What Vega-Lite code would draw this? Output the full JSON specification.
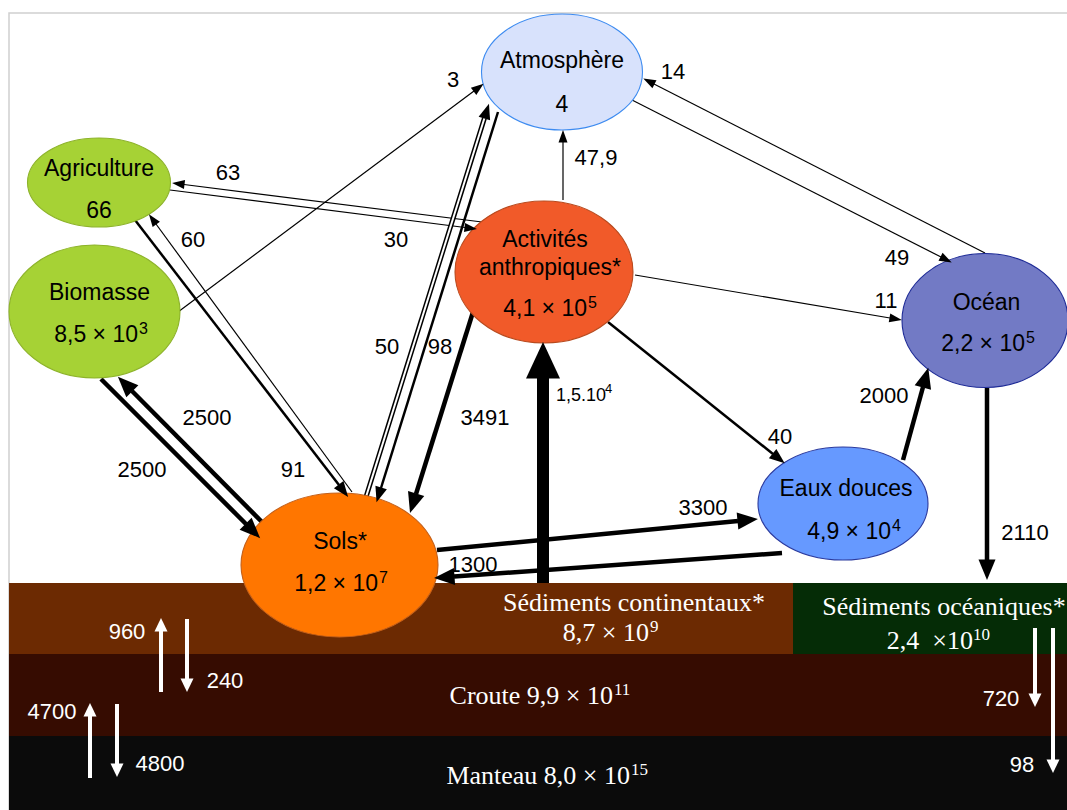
{
  "$schema": "https://vega.github.io/schema/vega-lite/v6.json",
  "width": 1067,
  "height": 810,
  "autosize": "none",
  "padding": 0,
  "background": "white",
  "config": {"view": {"stroke": null}, "axis": {"disable": true}},
  "datasets": {
    "frame": [{"x": 9, "x2": 1100, "y": 13, "y2": 900}],
    "bands": [
      {"band": "Sédiments continentaux", "x": 9, "x2": 793, "y": 583, "y2": 654},
      {"band": "Sédiments océaniques", "x": 793, "x2": 1100, "y": 583, "y2": 655},
      {"band": "Croute", "x": 9, "x2": 1100, "y": 654, "y2": 736},
      {"band": "Manteau", "x": 9, "x2": 1100, "y": 736, "y2": 830}
    ],
    "nodes": [
      {"node": "Atmosphère", "x": 562, "y": 72},
      {"node": "Agriculture", "x": 99, "y": 182.5},
      {"node": "Biomasse", "x": 94.5, "y": 311.5},
      {"node": "Activités anthropiques", "x": 544, "y": 272},
      {"node": "Océan", "x": 985, "y": 320.5},
      {"node": "Eaux douces", "x": 843, "y": 503.5},
      {"node": "Sols", "x": 339.5, "y": 565}
    ],
    "arrows": [
      {"flux": "3", "x": 178, "y": 312, "x2": 474, "y2": 91, "cls": "thin"},
      {"flux": "14", "x": 985, "y": 253, "x2": 654, "y2": 84, "cls": "thin"},
      {"flux": "49", "x": 632, "y": 100, "x2": 941, "y2": 257, "cls": "thin"},
      {"flux": "47,9", "x": 563, "y": 200, "x2": 563, "y2": 142, "cls": "thin"},
      {"flux": "63", "x": 482, "y": 222, "x2": 184, "y2": 184.5, "cls": "thin"},
      {"flux": "30", "x": 170, "y": 190, "x2": 465, "y2": 227.5, "cls": "thin"},
      {"flux": "11", "x": 635, "y": 275, "x2": 890, "y2": 318, "cls": "thin"},
      {"flux": "40", "x": 608, "y": 322, "x2": 773, "y2": 454, "cls": "med"},
      {"flux": "2000", "x": 903, "y": 460, "x2": 923, "y2": 387, "cls": "thick"},
      {"flux": "2110", "x": 987, "y": 388, "x2": 987, "y2": 560, "cls": "thick"},
      {"flux": "3300", "x": 437, "y": 550, "x2": 738, "y2": 521, "cls": "thick"},
      {"flux": "1300", "x": 782, "y": 553, "x2": 454, "y2": 576.6, "cls": "thick"},
      {"flux": "1,5.10⁴", "x": 543, "y": 583, "x2": 543, "y2": 378, "cls": "huge"},
      {"flux": "3491", "x": 478, "y": 296, "x2": 416, "y2": 494, "cls": "thick"},
      {"flux": "50", "x": 366, "y": 497, "x2": 484.5, "y2": 118, "cls": "hollow"},
      {"flux": "98", "x": 498, "y": 112, "x2": 381, "y2": 488, "cls": "med"},
      {"flux": "60", "x": 352, "y": 492, "x2": 156, "y2": 224, "cls": "thin"},
      {"flux": "91", "x": 135, "y": 220, "x2": 339, "y2": 485, "cls": "med"},
      {"flux": "2500", "x": 101, "y": 379, "x2": 246, "y2": 524, "cls": "thick"},
      {"flux": "2500", "x": 262, "y": 522, "x2": 132, "y2": 391, "cls": "thick"},
      {"flux": "960", "x": 161, "y": 692, "x2": 161, "y2": 631, "cls": "white"},
      {"flux": "240", "x": 187, "y": 619, "x2": 187, "y2": 679, "cls": "white"},
      {"flux": "4700", "x": 90, "y": 778, "x2": 90, "y2": 716, "cls": "white"},
      {"flux": "4800", "x": 117, "y": 704, "x2": 117, "y2": 764, "cls": "white"},
      {"flux": "720", "x": 1035, "y": 628, "x2": 1035, "y2": 694, "cls": "white"},
      {"flux": "98", "x": 1053, "y": 628, "x2": 1053, "y2": 760, "cls": "white"}
    ],
    "texts": [
      {"t": "Atmosphère", "x": 562, "y": 61, "k": "n"},
      {"t": "4", "x": 562, "y": 104.5, "k": "n"},
      {"t": "Agriculture", "x": 99, "y": 169, "k": "n"},
      {"t": "66", "x": 99, "y": 211, "k": "n"},
      {"t": "Biomasse", "x": 99.5, "y": 293, "k": "n"},
      {"t": "8,5 × 10", "x": 138, "y": 335, "k": "nm"},
      {"t": "3", "x": 139, "y": 329, "k": "ns"},
      {"t": "Activités", "x": 545, "y": 240, "k": "n"},
      {"t": "anthropiques*", "x": 550, "y": 268, "k": "n"},
      {"t": "4,1 × 10", "x": 587, "y": 309, "k": "nm"},
      {"t": "5", "x": 588, "y": 303, "k": "ns"},
      {"t": "Océan", "x": 986.5, "y": 302.5, "k": "n"},
      {"t": "2,2 × 10", "x": 1025, "y": 344, "k": "nm"},
      {"t": "5", "x": 1026, "y": 338, "k": "ns"},
      {"t": "Eaux douces", "x": 846, "y": 489, "k": "n"},
      {"t": "4,9 × 10", "x": 891, "y": 531.5, "k": "nm"},
      {"t": "4", "x": 892, "y": 526, "k": "ns"},
      {"t": "Sols*", "x": 340, "y": 542, "k": "n"},
      {"t": "1,2 × 10", "x": 378, "y": 584, "k": "nm"},
      {"t": "7", "x": 379, "y": 578, "k": "ns"},
      {"t": "3", "x": 453, "y": 80, "k": "f"},
      {"t": "14", "x": 673, "y": 72, "k": "f"},
      {"t": "63", "x": 228, "y": 173, "k": "f"},
      {"t": "47,9", "x": 596, "y": 158, "k": "f"},
      {"t": "60", "x": 193, "y": 240, "k": "f"},
      {"t": "30", "x": 396, "y": 240, "k": "f"},
      {"t": "49", "x": 897, "y": 258, "k": "f"},
      {"t": "11", "x": 886, "y": 301, "k": "f"},
      {"t": "50", "x": 387, "y": 347, "k": "f"},
      {"t": "98", "x": 440, "y": 347, "k": "f"},
      {"t": "2500", "x": 207, "y": 418, "k": "f"},
      {"t": "2500", "x": 142, "y": 470, "k": "f"},
      {"t": "3491", "x": 485, "y": 418, "k": "f"},
      {"t": "1,5.10", "x": 556, "y": 396, "k": "fm"},
      {"t": "4", "x": 605, "y": 389, "k": "fs"},
      {"t": "2000", "x": 884, "y": 396, "k": "f"},
      {"t": "40", "x": 780, "y": 437, "k": "f"},
      {"t": "91", "x": 293, "y": 470, "k": "f"},
      {"t": "3300", "x": 703, "y": 508, "k": "f"},
      {"t": "2110", "x": 1025, "y": 533, "k": "f"},
      {"t": "1300", "x": 473, "y": 565, "k": "f"},
      {"t": "960", "x": 127, "y": 632, "k": "w"},
      {"t": "240", "x": 225, "y": 681, "k": "w"},
      {"t": "4700", "x": 52, "y": 712, "k": "w"},
      {"t": "4800", "x": 160, "y": 764, "k": "w"},
      {"t": "720", "x": 1001, "y": 699, "k": "w"},
      {"t": "98", "x": 1022, "y": 765, "k": "w"},
      {"t": "Sédiments continentaux*", "x": 634, "y": 603, "k": "b"},
      {"t": "8,7 × 10", "x": 649, "y": 633, "k": "bm"},
      {"t": "9", "x": 650, "y": 627, "k": "bs"},
      {"t": "Sédiments océaniques*", "x": 944, "y": 607, "k": "b"},
      {"t": "2,4\u00a0\u00a0×10", "x": 973, "y": 641, "k": "bm"},
      {"t": "10", "x": 973, "y": 635, "k": "bs"},
      {"t": "Croute 9,9 × 10", "x": 613, "y": 696, "k": "bm"},
      {"t": "11", "x": 614, "y": 690, "k": "bs"},
      {"t": "Manteau 8,0 × 10", "x": 630, "y": 776, "k": "bm"},
      {"t": "15", "x": 631, "y": 770, "k": "bs"}
    ]
  },
  "resolve": {"scale": {"fill": "independent", "stroke": "independent", "shape": "independent", "strokeWidth": "independent"}},
  "layer": [
    {
      "data": {"name": "frame"},
      "mark": {"type": "rect", "fill": null, "stroke": "#D0D0D0", "strokeWidth": 1.5},
      "encoding": {
        "x": {"field": "x", "type": "quantitative", "scale": {"domain": [0, 1067], "nice": false, "zero": false}},
        "x2": {"field": "x2"},
        "y": {"field": "y", "type": "quantitative", "scale": {"domain": [0, 810], "reverse": true, "nice": false, "zero": false}},
        "y2": {"field": "y2"}
      }
    },
    {
      "data": {"name": "bands"},
      "mark": {"type": "rect", "strokeWidth": 0},
      "encoding": {
        "x": {"field": "x", "type": "quantitative", "scale": {"domain": [0, 1067], "nice": false, "zero": false}},
        "x2": {"field": "x2"},
        "y": {"field": "y", "type": "quantitative", "scale": {"domain": [0, 810], "reverse": true, "nice": false, "zero": false}},
        "y2": {"field": "y2"},
        "fill": {"field": "band", "type": "nominal", "legend": null,
          "scale": {"domain": ["Sédiments continentaux", "Sédiments océaniques", "Croute", "Manteau"],
                    "range": ["#6C2A02", "#052C06", "#360C01", "#0B0B0B"]}}
      }
    },
    {
      "data": {"name": "arrows"},
      "mark": {"type": "rule", "strokeCap": "butt"},
      "encoding": {
        "x": {"field": "x", "type": "quantitative", "scale": {"domain": [0, 1067], "nice": false, "zero": false}},
        "x2": {"field": "x2"},
        "y": {"field": "y", "type": "quantitative", "scale": {"domain": [0, 810], "reverse": true, "nice": false, "zero": false}},
        "y2": {"field": "y2"},
        "stroke": {"field": "cls", "type": "nominal", "legend": null,
          "scale": {"domain": ["thin", "med", "thick", "huge", "hollow", "white"],
                    "range": ["#000000", "#000000", "#000000", "#000000", "#000000", "#FFFFFF"]}},
        "strokeWidth": {"field": "cls", "type": "ordinal", "legend": null,
          "scale": {"type": "ordinal", "domain": ["thin", "med", "thick", "huge", "hollow", "white"],
                    "range": [1.2, 2.5, 4.5, 12, 5, 4]}}
      }
    },
    {
      "data": {"name": "arrows"},
      "transform": [{"filter": "datum.cls == 'hollow'"}],
      "mark": {"type": "rule", "strokeCap": "butt", "stroke": "#FFFFFF", "strokeWidth": 2},
      "encoding": {
        "x": {"field": "x", "type": "quantitative", "scale": {"domain": [0, 1067], "nice": false, "zero": false}},
        "x2": {"field": "x2"},
        "y": {"field": "y", "type": "quantitative", "scale": {"domain": [0, 810], "reverse": true, "nice": false, "zero": false}},
        "y2": {"field": "y2"}
      }
    },
    {
      "data": {"name": "nodes"},
      "mark": {"type": "point", "filled": true, "opacity": 1, "size": 4, "strokeWidth": 1.1},
      "encoding": {
        "x": {"field": "x", "type": "quantitative", "scale": {"domain": [0, 1067], "nice": false, "zero": false}},
        "y": {"field": "y", "type": "quantitative", "scale": {"domain": [0, 810], "reverse": true, "nice": false, "zero": false}},
        "shape": {"field": "node", "type": "nominal", "legend": null,
          "scale": {"domain": ["Atmosphère", "Agriculture", "Biomasse", "Activités anthropiques", "Océan", "Eaux douces", "Sols"],
                    "range": [
                      "M-80.5,0A80.5,58,0,1,0,80.5,0A80.5,58,0,1,0,-80.5,0Z",
                      "M-71.5,0A71.5,44.5,0,1,0,71.5,0A71.5,44.5,0,1,0,-71.5,0Z",
                      "M-85.5,0A85.5,66.5,0,1,0,85.5,0A85.5,66.5,0,1,0,-85.5,0Z",
                      "M-89,0A89,71,0,1,0,89,0A89,71,0,1,0,-89,0Z",
                      "M-83,0A83,67,0,1,0,83,0A83,67,0,1,0,-83,0Z",
                      "M-85,0A85,56.5,0,1,0,85,0A85,56.5,0,1,0,-85,0Z",
                      "M-98.5,0A98.5,72,0,1,0,98.5,0A98.5,72,0,1,0,-98.5,0Z"
                    ]}},
        "fill": {"field": "node", "type": "nominal", "legend": null,
          "scale": {"domain": ["Atmosphère", "Agriculture", "Biomasse", "Activités anthropiques", "Océan", "Eaux douces", "Sols"],
                    "range": ["#D8E2FC", "#A6D235", "#A6D235", "#F15A29", "#727AC5", "#6699FF", "#FF7600"]}},
        "stroke": {"field": "node", "type": "nominal", "legend": null,
          "scale": {"domain": ["Atmosphère", "Agriculture", "Biomasse", "Activités anthropiques", "Océan", "Eaux douces", "Sols"],
                    "range": ["#3D8BF0", "#8DB32A", "#8DB32A", "#B84A1E", "#1D2A96", "#2B3A9E", "#C4601A"]}}
      }
    },
    {
      "data": {"name": "arrows"},
      "transform": [{"calculate": "atan2(datum.x2 - datum.x, datum.y - datum.y2) * 180 / PI", "as": "ang"}],
      "mark": {"type": "point", "filled": true, "opacity": 1, "size": 4, "strokeWidth": 0},
      "encoding": {
        "x": {"field": "x2", "type": "quantitative", "scale": {"domain": [0, 1067], "nice": false, "zero": false}},
        "y": {"field": "y2", "type": "quantitative", "scale": {"domain": [0, 810], "reverse": true, "nice": false, "zero": false}},
        "angle": {"field": "ang", "type": "quantitative", "scale": null},
        "shape": {"field": "cls", "type": "nominal", "legend": null,
          "scale": {"domain": ["thin", "med", "thick", "huge", "hollow", "white"],
                    "range": [
                      "M0,-12L4.5,0.5L-4.5,0.5Z",
                      "M0,-15L6,0.5L-6,0.5Z",
                      "M0,-20L8.5,0.5L-8.5,0.5Z",
                      "M0,-36L17,0.5L-17,0.5Z",
                      "M0,-15L6,0.5L-6,0.5Z",
                      "M0,-13L6.5,0.5L-6.5,0.5Z"
                    ]}},
        "fill": {"field": "cls", "type": "nominal", "legend": null,
          "scale": {"domain": ["thin", "med", "thick", "huge", "hollow", "white"],
                    "range": ["#000000", "#000000", "#000000", "#000000", "#000000", "#FFFFFF"]}}
      }
    },
    {
      "data": {"name": "texts"},
      "transform": [{"filter": "datum.k == 'n'"}],
      "mark": {"type": "text", "font": "Liberation Sans", "fontSize": 23, "color": "#000000", "align": "center", "baseline": "middle"},
      "encoding": {
        "x": {"field": "x", "type": "quantitative", "scale": {"domain": [0, 1067], "nice": false, "zero": false}},
        "y": {"field": "y", "type": "quantitative", "scale": {"domain": [0, 810], "reverse": true, "nice": false, "zero": false}},
        "text": {"field": "t"}
      }
    },
    {
      "data": {"name": "texts"},
      "transform": [{"filter": "datum.k == 'nm'"}],
      "mark": {"type": "text", "font": "Liberation Sans", "fontSize": 23, "color": "#000000", "align": "right", "baseline": "middle"},
      "encoding": {
        "x": {"field": "x", "type": "quantitative", "scale": {"domain": [0, 1067], "nice": false, "zero": false}},
        "y": {"field": "y", "type": "quantitative", "scale": {"domain": [0, 810], "reverse": true, "nice": false, "zero": false}},
        "text": {"field": "t"}
      }
    },
    {
      "data": {"name": "texts"},
      "transform": [{"filter": "datum.k == 'ns'"}],
      "mark": {"type": "text", "font": "Liberation Sans", "fontSize": 16, "color": "#000000", "align": "left", "baseline": "middle"},
      "encoding": {
        "x": {"field": "x", "type": "quantitative", "scale": {"domain": [0, 1067], "nice": false, "zero": false}},
        "y": {"field": "y", "type": "quantitative", "scale": {"domain": [0, 810], "reverse": true, "nice": false, "zero": false}},
        "text": {"field": "t"}
      }
    },
    {
      "data": {"name": "texts"},
      "transform": [{"filter": "datum.k == 'f'"}],
      "mark": {"type": "text", "font": "Liberation Sans", "fontSize": 22, "color": "#000000", "align": "center", "baseline": "middle"},
      "encoding": {
        "x": {"field": "x", "type": "quantitative", "scale": {"domain": [0, 1067], "nice": false, "zero": false}},
        "y": {"field": "y", "type": "quantitative", "scale": {"domain": [0, 810], "reverse": true, "nice": false, "zero": false}},
        "text": {"field": "t"}
      }
    },
    {
      "data": {"name": "texts"},
      "transform": [{"filter": "datum.k == 'fm'"}],
      "mark": {"type": "text", "font": "Liberation Sans", "fontSize": 18, "color": "#000000", "align": "left", "baseline": "middle"},
      "encoding": {
        "x": {"field": "x", "type": "quantitative", "scale": {"domain": [0, 1067], "nice": false, "zero": false}},
        "y": {"field": "y", "type": "quantitative", "scale": {"domain": [0, 810], "reverse": true, "nice": false, "zero": false}},
        "text": {"field": "t"}
      }
    },
    {
      "data": {"name": "texts"},
      "transform": [{"filter": "datum.k == 'fs'"}],
      "mark": {"type": "text", "font": "Liberation Sans", "fontSize": 13, "color": "#000000", "align": "left", "baseline": "middle"},
      "encoding": {
        "x": {"field": "x", "type": "quantitative", "scale": {"domain": [0, 1067], "nice": false, "zero": false}},
        "y": {"field": "y", "type": "quantitative", "scale": {"domain": [0, 810], "reverse": true, "nice": false, "zero": false}},
        "text": {"field": "t"}
      }
    },
    {
      "data": {"name": "texts"},
      "transform": [{"filter": "datum.k == 'w'"}],
      "mark": {"type": "text", "font": "Liberation Sans", "fontSize": 22, "color": "#FFFFFF", "align": "center", "baseline": "middle"},
      "encoding": {
        "x": {"field": "x", "type": "quantitative", "scale": {"domain": [0, 1067], "nice": false, "zero": false}},
        "y": {"field": "y", "type": "quantitative", "scale": {"domain": [0, 810], "reverse": true, "nice": false, "zero": false}},
        "text": {"field": "t"}
      }
    },
    {
      "data": {"name": "texts"},
      "transform": [{"filter": "datum.k == 'b'"}],
      "mark": {"type": "text", "font": "Liberation Serif", "fontSize": 26, "color": "#FFFFFF", "align": "center", "baseline": "middle"},
      "encoding": {
        "x": {"field": "x", "type": "quantitative", "scale": {"domain": [0, 1067], "nice": false, "zero": false}},
        "y": {"field": "y", "type": "quantitative", "scale": {"domain": [0, 810], "reverse": true, "nice": false, "zero": false}},
        "text": {"field": "t"}
      }
    },
    {
      "data": {"name": "texts"},
      "transform": [{"filter": "datum.k == 'bm'"}],
      "mark": {"type": "text", "font": "Liberation Serif", "fontSize": 26, "color": "#FFFFFF", "align": "right", "baseline": "middle"},
      "encoding": {
        "x": {"field": "x", "type": "quantitative", "scale": {"domain": [0, 1067], "nice": false, "zero": false}},
        "y": {"field": "y", "type": "quantitative", "scale": {"domain": [0, 810], "reverse": true, "nice": false, "zero": false}},
        "text": {"field": "t"}
      }
    },
    {
      "data": {"name": "texts"},
      "transform": [{"filter": "datum.k == 'bs'"}],
      "mark": {"type": "text", "font": "Liberation Serif", "fontSize": 17, "color": "#FFFFFF", "align": "left", "baseline": "middle"},
      "encoding": {
        "x": {"field": "x", "type": "quantitative", "scale": {"domain": [0, 1067], "nice": false, "zero": false}},
        "y": {"field": "y", "type": "quantitative", "scale": {"domain": [0, 810], "reverse": true, "nice": false, "zero": false}},
        "text": {"field": "t"}
      }
    }
  ]
}
